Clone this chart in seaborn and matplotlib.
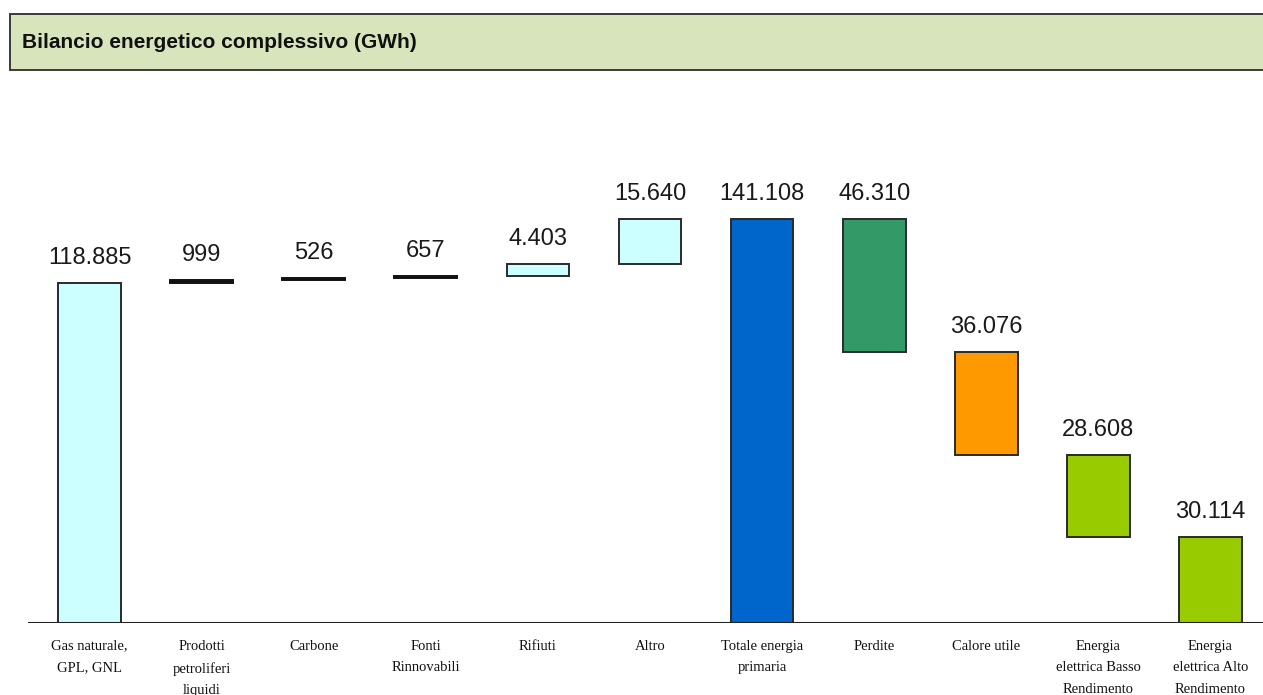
import matplotlib
matplotlib.use("Agg")
import matplotlib.pyplot as plt
import seaborn as sns
import pandas as pd
import numpy as np
from matplotlib.patches import Rectangle

# Energy balance data (GWh)
categories = [
    "Gas naturale,\nGPL, GNL",
    "Prodotti\npetroliferi\nliquidi",
    "Carbone",
    "Fonti\nRinnovabili",
    "Rifiuti",
    "Altro",
    "Totale energia\nprimaria",
    "Perdite",
    "Calore utile",
    "Energia\nelettrica Basso\nRendimento",
    "Energia\nelettrica Alto\nRendimento",
]
inputs = [118885, 999, 526, 657, 4403, 15640]
total = [141108]
outputs = [46310, 36076, 28608, 30114]
colors = ["#ccffff"] * 6 + ["#0066cc", "#339966", "#ff9900", "#99cc00", "#99cc00"]

values = inputs + total + outputs

# waterfall bases: inputs stack upward, outputs stack downward from the total
bottoms = []
acc = 0
for v in inputs:
    bottoms.append(acc)
    acc += v
bottoms.append(0)
acc = total[0]
for v in outputs:
    acc -= v
    bottoms.append(acc)

df = pd.DataFrame({"cat": categories, "val": values})

sns.set_theme(style="white")
plt.rcParams["font.family"] = ["Liberation Sans", "DejaVu Sans"]

fig = plt.figure(figsize=(12.63, 6.95), dpi=100)

# title banner
fig.patches.append(Rectangle((10 / 1263, 1 - 70 / 695), 1.2, 56 / 695,
                             transform=fig.transFigure, facecolor="#d8e4bc",
                             edgecolor="#3a3a3a", linewidth=1.4, zorder=0))
fig.text(22 / 1263, 1 - 43 / 695, "Bilancio energetico complessivo (GWh)",
         fontsize=15, fontweight="bold", va="center", ha="left", color="#111111")

ax = fig.add_axes([28 / 1263, 1 - 623 / 695, 1244 / 1263, 523 / 695])
sns.barplot(data=df, x="cat", y="val", bottom=bottoms, width=0.56,
            color="#ccffff", edgecolor="#2a2a2a", linewidth=1.4,
            saturation=1, ax=ax, zorder=2)
ymax = 523 / 2.8631 * 1000
for patch, c, v in zip(ax.patches, colors, values):
    # very thin slices render as a solid dark stroke
    if v < 0.01 * ymax:
        patch.set_facecolor("#111111")
        patch.set_edgecolor("#111111")
    else:
        patch.set_facecolor(c)

for i, (v, b) in enumerate(zip(values, bottoms)):
    ax.annotate(f"{v:,}".replace(",", "."), (i, b + v), xytext=(0, 10),
                textcoords="offset points", ha="center", va="bottom",
                fontsize=17, color="#1a1a1a")

ax.set_xlim(-0.55, 10.55)
ax.set_ylim(0, ymax)
ax.axhline(0, color="#222222", linewidth=1.5, zorder=3)
for s in ax.spines.values():
    s.set_visible(False)
ax.set_yticks([])
ax.set_xlabel("")
ax.set_ylabel("")
ax.tick_params(axis="x", length=0, pad=12)
for lbl in ax.get_xticklabels():
    lbl.set_fontfamily(["Liberation Serif", "DejaVu Serif"])
    lbl.set_fontsize(10.5)
    lbl.set_linespacing(1.85)
    lbl.set_color("#111111")

fig.savefig("out.png", dpi=100)
